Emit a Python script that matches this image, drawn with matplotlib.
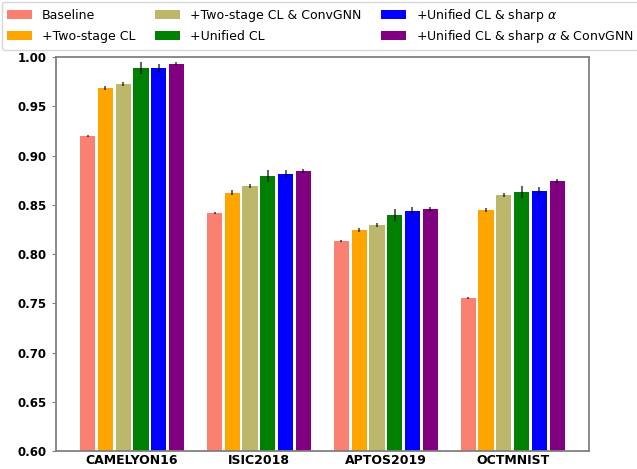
import numpy as np
import matplotlib
matplotlib.use("Agg")
import matplotlib.pyplot as plt

# datasets and methods
datasets = ["CAMELYON16", "ISIC2018", "APTOS2019", "OCTMNIST"]
methods = ["Baseline", "+Two-stage CL", "+Two-stage CL & ConvGNN",
           "+Unified CL", r"+Unified CL & sharp $\alpha$",
           r"+Unified CL & sharp $\alpha$ & ConvGNN"]
colors = ["salmon", "orange", "darkkhaki", "green", "blue", "purple"]

# scores per method, one value per dataset
baseline = [0.920, 0.842, 0.813, 0.755]
two_stage = [0.969, 0.862, 0.824, 0.845]
two_stage_gnn = [0.973, 0.869, 0.829, 0.860]
unified = [0.989, 0.879, 0.840, 0.863]
unified_sharp = [0.989, 0.881, 0.844, 0.864]
unified_sharp_gnn = [0.993, 0.884, 0.846, 0.874]

# standard deviations
baseline_err = [0.001, 0.001, 0.001, 0.001]
two_stage_err = [0.002, 0.0025, 0.002, 0.002]
two_stage_gnn_err = [0.002, 0.002, 0.002, 0.002]
unified_err = [0.006, 0.006, 0.006, 0.006]
unified_sharp_err = [0.004, 0.004, 0.004, 0.004]
unified_sharp_gnn_err = [0.002, 0.002, 0.002, 0.002]

scores = [baseline, two_stage, two_stage_gnn, unified, unified_sharp, unified_sharp_gnn]
errors = [baseline_err, two_stage_err, two_stage_gnn_err, unified_err,
          unified_sharp_err, unified_sharp_gnn_err]

fig = plt.figure(figsize=(6.37, 4.69), dpi=100)
ax = fig.add_axes([0.0876, 0.0384, 0.837, 0.84])

x = np.arange(len(datasets))
step = 0.14
width = 0.12
for i, (vals, errs) in enumerate(zip(scores, errors)):
    ax.bar(x + (i - 2.5) * step, vals, width, yerr=errs, color=colors[i],
           label=methods[i],
           error_kw=dict(ecolor="black", alpha=0.6, elinewidth=1.5, capsize=0))

ax.set_ylim(0.6, 1.0)
ax.set_yticks(np.arange(0.60, 1.001, 0.05))
ax.set_yticklabels([f"{v:.2f}" for v in np.arange(0.60, 1.001, 0.05)],
                   fontweight="bold", fontsize=8.5)
ax.set_xticks(x)
ax.set_xticklabels(datasets, fontweight="bold", fontsize=9)
ax.tick_params(axis="x", length=0, pad=2)
ax.tick_params(axis="y", length=3, color="#808080")
for side in ["left", "right", "top", "bottom"]:
    ax.spines[side].set_color("#808080")
    ax.spines[side].set_linewidth(1.3)

leg = fig.legend(loc="upper left", bbox_to_anchor=(0.003, 0.996), ncol=3,
                 fontsize=9, borderaxespad=0, columnspacing=1.55,
                 labelspacing=0.63, handleheight=0.8, handlelength=2.0)
# mathtext rows are taller; pull the last column's second row back in line
cols = leg._legend_handle_box.get_children()
cols[2].sep = cols[2].sep - 2.9

fig.savefig("out.png", dpi=100)
